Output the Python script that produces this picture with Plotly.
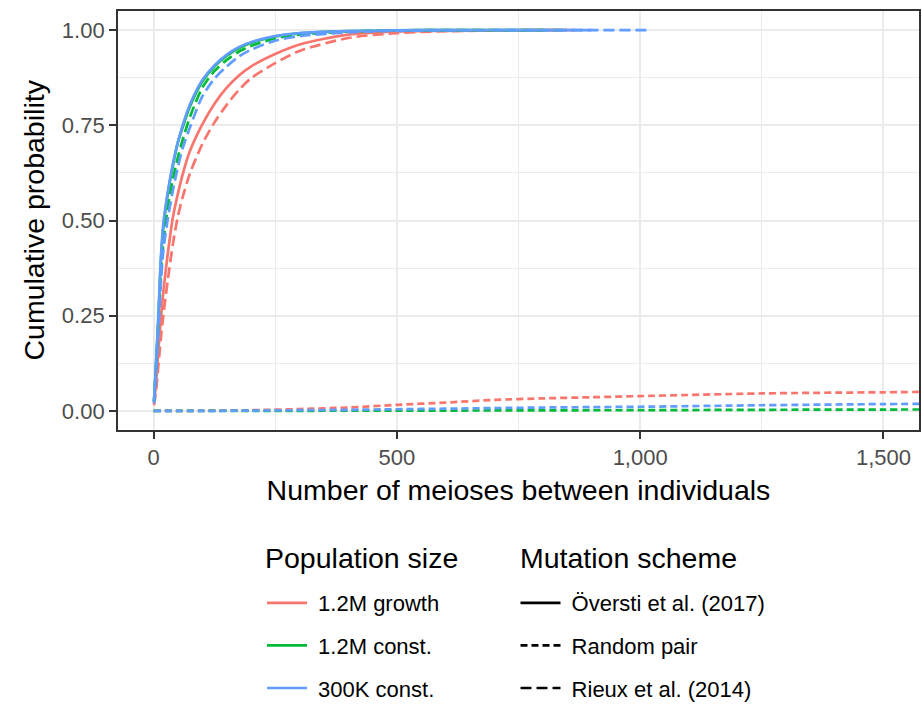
import plotly.graph_objects as go

# ---------------- data ----------------
GROUPS = ["1.2M growth", "1.2M const.", "300K const."]
SCHEMES = ["Översti et al. (2017)", "Random pair", "Rieux et al. (2014)"]
COLORS = {"1.2M growth": "#F8766D", "1.2M const.": "#00BA38", "300K const.": "#619CFF"}
DASH = {"Översti et al. (2017)": "solid", "Random pair": "7px,4px", "Rieux et al. (2014)": "11px,5px"}
LEGEND_TITLES = ["Population size", "Mutation scheme"]
X_TITLE = "Number of meioses between individuals"
Y_TITLE = "Cumulative probability"

# Översti et al. (2017)
red_solid_x = [1, 5, 10, 15, 20, 30, 40, 50, 60, 75, 100, 125, 150, 175, 200, 250, 300, 400, 500, 600, 800, 850]
red_solid_y = [0.02, 0.07, 0.16, 0.24, 0.31, 0.42, 0.51, 0.57, 0.622, 0.683, 0.752, 0.806, 0.848, 0.88, 0.904, 0.937, 0.962, 0.988, 0.996, 0.998, 1.0, 1.0]
green_solid_x = [1, 5, 10, 15, 20, 30, 40, 50, 60, 75, 100, 125, 150, 175, 200, 250, 300, 400, 500, 600, 800]
green_solid_y = [0.025, 0.118, 0.245, 0.39, 0.48, 0.575, 0.645, 0.705, 0.745, 0.80, 0.864, 0.904, 0.932, 0.952, 0.966, 0.983, 0.991, 0.997, 0.999, 1.0, 1.0]
blue_solid_x = [1, 5, 10, 15, 20, 30, 40, 50, 60, 75, 100, 125, 150, 175, 200, 250, 300, 400, 500, 600, 800, 900]
blue_solid_y = [0.025, 0.12, 0.25, 0.40, 0.49, 0.58, 0.65, 0.705, 0.75, 0.805, 0.868, 0.907, 0.935, 0.955, 0.968, 0.984, 0.992, 0.997, 0.999, 1.0, 1.0, 1.0]

# Rieux et al. (2014)
red_rieux_x = [1, 5, 10, 15, 20, 30, 40, 50, 60, 75, 100, 125, 150, 175, 200, 250, 300, 400, 500, 600, 800, 880]
red_rieux_y = [0.015, 0.05, 0.12, 0.19, 0.25, 0.35, 0.44, 0.51, 0.562, 0.624, 0.70, 0.757, 0.803, 0.842, 0.873, 0.913, 0.945, 0.979, 0.992, 0.997, 1.0, 1.0]
green_rieux_x = [1, 5, 10, 15, 20, 30, 40, 50, 60, 75, 100, 125, 150, 175, 200, 250, 300, 400, 500, 600, 800, 850]
green_rieux_y = [0.025, 0.11, 0.23, 0.35, 0.44, 0.54, 0.61, 0.665, 0.712, 0.772, 0.848, 0.892, 0.921, 0.943, 0.958, 0.978, 0.988, 0.996, 0.999, 1.0, 1.0, 1.0]
blue_rieux_x = [1, 5, 10, 15, 20, 30, 40, 50, 60, 75, 100, 125, 150, 175, 200, 250, 300, 400, 500, 600, 800, 1020]
blue_rieux_y = [0.02, 0.10, 0.21, 0.33, 0.42, 0.51, 0.58, 0.64, 0.69, 0.745, 0.825, 0.872, 0.904, 0.93, 0.948, 0.972, 0.984, 0.994, 0.998, 0.999, 1.0, 1.0]

# Random pair
rand_x = [0, 100, 200, 300, 400, 500, 600, 700, 800, 900, 1000, 1250, 1500, 1650]
red_rand_y = [0.0, 0.0005, 0.002, 0.005, 0.009, 0.016, 0.022, 0.029, 0.033, 0.036, 0.039, 0.046, 0.049, 0.051]
green_rand_y = [0.0, 0.0, 0.0002, 0.0004, 0.0006, 0.0008, 0.001, 0.0013, 0.0016, 0.0018, 0.002, 0.003, 0.0037, 0.004]
blue_rand_y = [0.0, 0.0002, 0.001, 0.002, 0.003, 0.0045, 0.006, 0.0075, 0.009, 0.010, 0.011, 0.015, 0.018, 0.019]

X_TICKS = [0, 500, 1000, 1500]
X_TICKTEXT = ["0", "500", "1,000", "1,500"]
X_MINOR = [250, 750, 1250]
Y_TICKS = [0, 0.25, 0.5, 0.75, 1.0]
Y_TICKTEXT = ["0.00", "0.25", "0.50", "0.75", "1.00"]
Y_MINOR = [0.125, 0.375, 0.625, 0.875]

SERIES = [
    ("1.2M growth", "Översti et al. (2017)", red_solid_x, red_solid_y),
    ("1.2M growth", "Random pair", rand_x, red_rand_y),
    ("1.2M growth", "Rieux et al. (2014)", red_rieux_x, red_rieux_y),
    ("1.2M const.", "Översti et al. (2017)", green_solid_x, green_solid_y),
    ("1.2M const.", "Random pair", rand_x, green_rand_y),
    ("1.2M const.", "Rieux et al. (2014)", green_rieux_x, green_rieux_y),
    ("300K const.", "Översti et al. (2017)", blue_solid_x, blue_solid_y),
    ("300K const.", "Random pair", rand_x, blue_rand_y),
    ("300K const.", "Rieux et al. (2014)", blue_rieux_x, blue_rieux_y),
]

LW = 2.7
NBSP = "\u00a0"
fig = go.Figure()
for grp, sch, xs, ys in SERIES:
    fig.add_trace(go.Scatter(
        x=xs, y=ys, mode="lines",
        line=dict(color=COLORS[grp], width=LW, dash=DASH[sch], shape="spline", smoothing=0.8),
        showlegend=False, hoverinfo="skip",
    ))

# legend entries
for i, grp in enumerate(GROUPS):
    fig.add_trace(go.Scatter(
        x=[None], y=[None], mode="lines", name=NBSP + grp,
        line=dict(color=COLORS[grp], width=LW),
        legend="legend", legendgroup="p%d" % i, showlegend=True,
    ))
for i, sch in enumerate(SCHEMES):
    fig.add_trace(go.Scatter(
        x=[None], y=[None], mode="lines", name=NBSP + sch,
        line=dict(color="black", width=LW, dash=DASH[sch]),
        legend="legend2", legendgroup="m%d" % i, showlegend=True,
    ))

axis_common = dict(
    showline=True, linecolor="#333333", linewidth=1.8, mirror=True,
    ticks="outside", ticklen=7, tickwidth=1.6, tickcolor="#333333",
    tickfont=dict(size=22, color="#4D4D4D"),
    showgrid=True, gridcolor="#EBEBEB", gridwidth=1.6, zeroline=False,
    automargin=True,
)

fig.update_xaxes(
    range=[-73, 1573], tickvals=X_TICKS, ticktext=X_TICKTEXT, tickangle=0,
    minor=dict(tickvals=X_MINOR, showgrid=True, gridcolor="#EBEBEB", gridwidth=0.8, ticks=""),
    title=dict(text=X_TITLE, font=dict(size=28.5, color="black"), standoff=11),
    **axis_common,
)
fig.update_yaxes(
    range=[-0.05, 1.05], tickvals=Y_TICKS, ticktext=Y_TICKTEXT,
    minor=dict(tickvals=Y_MINOR, showgrid=True, gridcolor="#EBEBEB", gridwidth=0.8, ticks=""),
    **axis_common,
)

legend_common = dict(
    font=dict(size=22, color="black"),
    xref="container", yref="container", xanchor="left", yanchor="top",
    itemwidth=40, tracegroupgap=11, traceorder="grouped",
    bgcolor="rgba(0,0,0,0)", borderwidth=0, orientation="v",
)
PW, PH = 801, 419
fig.update_layout(
    width=922, height=704,
    margin=dict(l=118, r=3, t=11, b=274, autoexpand=False),
    plot_bgcolor="white", paper_bgcolor="white",
    font=dict(family="Liberation Sans, Arial, sans-serif"),
    legend=dict(x=262 / 922, y=1 - 582 / 704, **legend_common),
    legend2=dict(x=515.5 / 922, y=1 - 582 / 704, **legend_common),
    annotations=[
        dict(text=LEGEND_TITLES[0], xref="paper", yref="paper",
             x=(263 - 118) / PW, y=(430 - 558) / PH, xanchor="left", yanchor="middle",
             showarrow=False, font=dict(size=28.5, color="black")),
        dict(text=LEGEND_TITLES[1], xref="paper", yref="paper",
             x=(518 - 118) / PW, y=(430 - 558) / PH, xanchor="left", yanchor="middle",
             showarrow=False, font=dict(size=28.5, color="black")),
        dict(text=Y_TITLE, xref="paper", yref="paper", textangle=-90,
             x=(33 - 118) / PW, y=0.5, xanchor="center", yanchor="middle",
             showarrow=False, font=dict(size=28.5, color="black")),
    ],
)

fig.write_html("out.html")
